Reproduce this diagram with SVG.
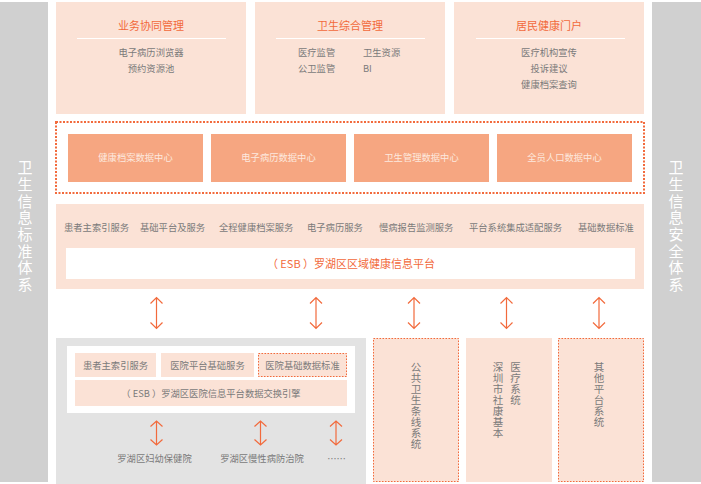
<svg xmlns="http://www.w3.org/2000/svg" width="701" height="484" viewBox="0 0 701 484">
<style>
text{font-family:"Noto Sans CJK SC","Liberation Sans",sans-serif;}
.side{fill:#d0d0d0}
.sideT{fill:#ffffff;font-size:15px;writing-mode:tb;letter-spacing:1.7px}
.peach{fill:#fbe2d6}
.title{fill:#f26a3c;font-size:11px;text-anchor:middle}
.item{fill:#7a7a7a;font-size:9.3px}
.ic{text-anchor:middle}
.dc{fill:#f6a681}
.dcT{fill:#fde9df;font-size:9.3px;text-anchor:middle}
.esb{fill:#f26a3c;font-size:11px;text-anchor:middle}
.dot{fill:none;stroke:#f26a3c;stroke-dasharray:1.5 1.5}
.arr{stroke:#f26a3c;stroke-width:1.2;fill:none}
.vt{fill:#7a7a7a;font-size:10.5px;writing-mode:tb;letter-spacing:0.5px}
</style>
<defs>
<g id="arrowBig">
<path class="arr" d="M0,1 V32 M-6,7 L0,1 L6,7 M-6,26 L0,32 L6,26"/>
</g>
<g id="arrowSmall">
<path class="arr" d="M0,0.5 V24.5 M-6,6 L0,0.5 L6,6 M-6,19 L0,24.5 L6,19"/>
</g>
</defs>

<g id="left-bar">
<rect class="side" x="0" y="2" width="48" height="480"/>
<text class="sideT" x="25" y="160">卫生信息标准体系</text>
</g>

<g id="right-bar">
<rect class="side" x="652" y="2" width="49" height="480"/>
<text class="sideT" x="676" y="160">卫生信息安全体系</text>
</g>

<g id="top-1">
<rect class="peach" x="56" y="2" width="190" height="112"/>
<text class="title" x="151" y="30">业务协同管理</text>
<line x1="77" y1="38.5" x2="226" y2="38.5" stroke="#ffffff" stroke-width="1"/>
<text class="item ic" x="151" y="55.5">电子病历浏览器</text>
<text class="item ic" x="151" y="71.5">预约资源池</text>
</g>

<g id="top-2">
<rect class="peach" x="255" y="2" width="190" height="112"/>
<text class="title" x="350" y="30">卫生综合管理</text>
<line x1="276" y1="38.5" x2="425" y2="38.5" stroke="#ffffff" stroke-width="1"/>
<text class="item" x="298" y="55.5">医疗监管</text>
<text class="item" x="363" y="55.5">卫生资源</text>
<text class="item" x="298" y="71.5">公卫监管</text>
<text class="item" x="363" y="71.5">BI</text>
</g>

<g id="top-3">
<rect class="peach" x="454" y="2" width="190" height="112"/>
<text class="title" x="549" y="30">居民健康门户</text>
<line x1="476" y1="38.5" x2="625" y2="38.5" stroke="#ffffff" stroke-width="1"/>
<text class="item ic" x="549" y="55.5">医疗机构宣传</text>
<text class="item ic" x="549" y="71.5">投诉建议</text>
<text class="item ic" x="549" y="87.5">健康档案查询</text>
</g>

<g id="data-centers">
<rect x="56" y="122" width="588" height="71" fill="none" stroke="#f26a3c" stroke-width="2" stroke-dasharray="2 1.5"/>
<g id="dc-1"><rect class="dc" x="68" y="134" width="135" height="48"/><text class="dcT" x="135.5" y="161">健康档案数据中心</text></g>
<g id="dc-2"><rect class="dc" x="211" y="134" width="135" height="48"/><text class="dcT" x="278.5" y="161">电子病历数据中心</text></g>
<g id="dc-3"><rect class="dc" x="354" y="134" width="135" height="48"/><text class="dcT" x="421.5" y="161">卫生管理数据中心</text></g>
<g id="dc-4"><rect class="dc" x="497" y="134" width="135" height="48"/><text class="dcT" x="564.5" y="161">全员人口数据中心</text></g>
</g>

<g id="platform">
<rect class="peach" x="56" y="204" width="588" height="85"/>
<text class="item" x="64" y="231">患者主索引服务</text>
<text class="item" x="140" y="231">基础平台及服务</text>
<text class="item" x="219" y="231">全程健康档案服务</text>
<text class="item" x="307" y="231">电子病历服务</text>
<text class="item" x="379" y="231">慢病报告监测服务</text>
<text class="item" x="469" y="231">平台系统集成适配服务</text>
<text class="item" x="578" y="231">基础数据标准</text>
<rect x="66" y="248" width="569" height="31" fill="#ffffff"/>
<text class="esb" x="351" y="268">（ ESB ）罗湖区区域健康信息平台</text>
</g>

<g id="hospital-platform">
<rect x="56" y="338" width="310" height="146" fill="#e3e3e3"/>
<rect x="67" y="346" width="288" height="67" fill="#ffffff"/>
<rect class="peach" x="75" y="353" width="81" height="24"/>
<text class="item ic" x="115.5" y="368.5">患者主索引服务</text>
<rect class="peach" x="161" y="353" width="93" height="24"/>
<text class="item ic" x="207.5" y="368.5">医院平台基础服务</text>
<rect class="peach" x="258" y="353" width="89" height="24"/>
<rect x="258.5" y="353.5" width="88" height="23" class="dot"/>
<text class="item ic" x="302.5" y="368.5">医院基础数据标准</text>
<rect class="peach" x="75" y="380" width="272" height="26"/>
<text class="item ic" x="211" y="396.5">（ ESB ）罗湖区医院信息平台数据交换引擎</text>
<text class="item ic" x="154.5" y="461.5">罗湖区妇幼保健院</text>
<text class="item ic" x="262" y="461.5">罗湖区慢性病防治院</text>
<text class="item ic" x="336.5" y="461.5">……</text>
</g>

<g id="public-health">
<rect class="peach" x="373" y="338" width="86" height="144"/>
<rect x="373.5" y="338.5" width="85" height="143" class="dot"/>
<text class="vt" x="416" y="362">公共卫生条线系统</text>
</g>

<g id="community-health">
<rect class="peach" x="466" y="338" width="86" height="144"/>
<text class="vt" x="498" y="361.5">深圳市社康基本</text>
<text class="vt" x="515.5" y="361.5">医疗系统</text>
</g>

<g id="other-platforms">
<rect class="peach" x="558" y="338" width="86" height="144"/>
<rect x="558.5" y="338.5" width="85" height="143" class="dot"/>
<text class="vt" x="599" y="361.5">其他平台系统</text>
</g>

<g id="connectors">
<use href="#arrowBig" x="156.5" y="296.5"/>
<use href="#arrowBig" x="316" y="296.5"/>
<use href="#arrowBig" x="414" y="296.5"/>
<use href="#arrowBig" x="506.5" y="296.5"/>
<use href="#arrowBig" x="599" y="296.5"/>
<use href="#arrowSmall" x="156.5" y="420.5"/>
<use href="#arrowSmall" x="260.5" y="420.5"/>
<use href="#arrowSmall" x="336" y="420.5"/>
</g>
</svg>
